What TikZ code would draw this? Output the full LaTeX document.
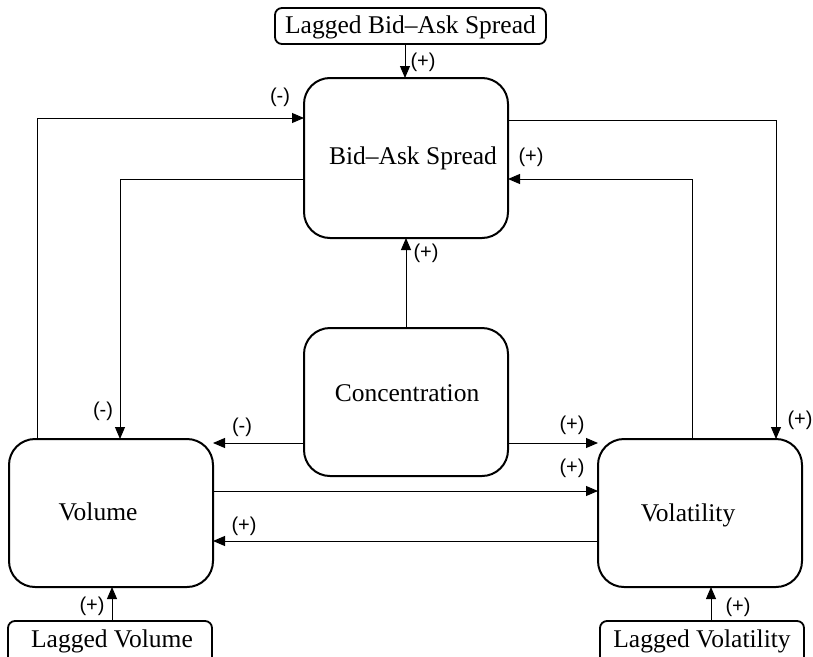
\documentclass[tikz,border=0pt]{standalone}
\usepackage{fontspec}
\setmainfont{Liberation Serif}
\newfontfamily\labfont{Liberation Sans}
\usetikzlibrary{arrows.meta,calc}
\begin{document}
\begin{tikzpicture}[x=1pt,y=-1pt,
  bigbox/.style={draw,line width=2pt,rounded corners=26pt,inner sep=0pt},
  smallbox/.style={draw,line width=1.8pt,rounded corners=7pt,inner sep=0pt},
  boxtext/.style={font=\fontsize{25.5}{30}\selectfont,inner sep=0pt},
  sign/.style={font=\labfont\fontsize{20}{24}\selectfont,inner sep=0pt},
  conn/.style={line width=0.9pt,-{Triangle[length=12pt,width=10pt]}}]
\useasboundingbox (0,0) rectangle (813,656);
\begin{scope}
\clip (0,0) rectangle (813,656);
% boxes
\path[smallbox] (275,8) rectangle (546,44);
\node[boxtext] (tlbas) at (410.5,27) {Lagged Bid–Ask Spread};
\coordinate (lbasS) at (405,44);
\path[bigbox] (304,78) rectangle (508,238);
\node[boxtext] (tbas) at (413,158) {Bid–Ask Spread};
\path[bigbox] (304,328) rectangle (508,476);
\node[boxtext] (tconc) at (407,393) {Concentration};
\path[bigbox] (9,439) rectangle (213,587);
\node[boxtext] (tvol) at (98,512) {Volume};
\path[bigbox] (598,439) rectangle (802,587);
\node[boxtext] (tvola) at (688,515) {Volatility};
\path[smallbox] (8,621) rectangle (212,680);
\node[boxtext] (tlvol) at (112,641) {Lagged Volume};
\path[smallbox] (600,621) rectangle (804,680);
\node[boxtext] (tlvola) at (702,641) {Lagged Volatility};
% named anchor points
\coordinate (basN) at (405,78);
\coordinate (basS) at (406,238);
\coordinate (basW1) at (304,118);
\coordinate (basW2) at (304,179);
\coordinate (basE1) at (508,120);
\coordinate (basE2) at (508,179);
\coordinate (concN) at (406,328);
\coordinate (concW) at (304,443);
\coordinate (concE) at (508,443);
\coordinate (volN1) at (37,439);
\coordinate (volN2) at (120,439);
\coordinate (volE1) at (213,443);
\coordinate (volE2) at (213,491);
\coordinate (volE3) at (213,541);
\coordinate (volS) at (112,587);
\coordinate (volaN1) at (692,439);
\coordinate (volaN2) at (776,439);
\coordinate (volaW1) at (598,443);
\coordinate (volaW2) at (598,491);
\coordinate (volaW3) at (598,541);
\coordinate (volaS) at (711,587);
\coordinate (lvolN) at (112,621);
\coordinate (lvolaN) at (711,621);
% connectors
\draw[conn] (lbasS) -- (basN);
\draw[conn] (volN1) |- (basW1);
\draw[conn] (basW2) -| (volN2);
\draw[conn] (basE1) -| (volaN2);
\draw[conn] (volaN1) |- (basE2);
\draw[conn] (concN) -- (basS);
\draw[conn] (concW) -- (volE1);
\draw[conn] (concE) -- (volaW1);
\draw[conn] (volE2) -- (volaW2);
\draw[conn] (volaW3) -- (volE3);
\draw[conn] (lvolN) -- (volS);
\draw[conn] (lvolaN) -- (volaS);
% signs
\node[sign] (s1) at (423,62) {(+)};
\node[sign] (s2) at (280,97) {(-)};
\node[sign] (s3) at (103,411) {(-)};
\node[sign] (s4) at (800,420) {(+)};
\node[sign] (s5) at (531,157) {(+)};
\node[sign] (s6) at (426,253) {(+)};
\node[sign] (s7) at (242,427) {(-)};
\node[sign] (s8) at (572,425) {(+)};
\node[sign] (s9) at (572,468) {(+)};
\node[sign] (s10) at (244,526) {(+)};
\node[sign] (s11) at (92,606) {(+)};
\node[sign] (s12) at (738,607) {(+)};
\end{scope}
\end{tikzpicture}
\end{document}
